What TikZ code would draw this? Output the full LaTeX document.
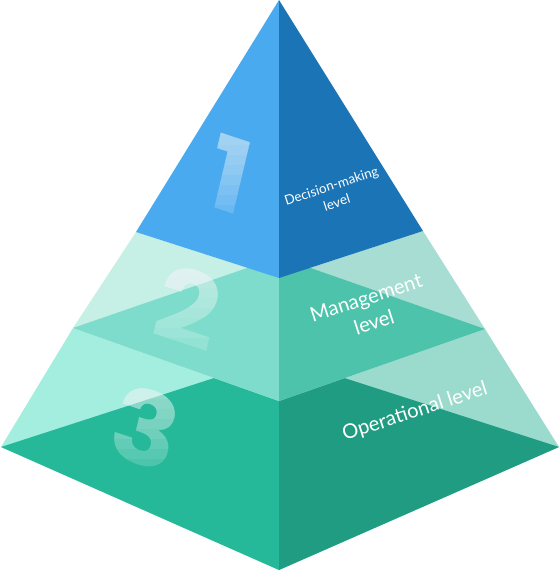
\documentclass[tikz,border=0pt]{standalone}
\usepackage{fontspec}
\setmainfont{Lato}
\newfontfamily\numfont{Poppins}
\usepackage{tikz}

\definecolor{blueL}{HTML}{49AAF0}
\definecolor{blueR}{HTML}{1B74B6}
\definecolor{midBackL}{HTML}{C6EFE6}
\definecolor{midBackR}{HTML}{A7DDD3}
\definecolor{midL}{HTML}{7DDCCB}
\definecolor{midR}{HTML}{4CC3AA}
\definecolor{lowBackL}{HTML}{A4EEDF}
\definecolor{lowBackR}{HTML}{9ADBCD}
\definecolor{lowL}{HTML}{25B99A}
\definecolor{lowR}{HTML}{1F9C82}

\tikzset{
	bignum/.style={text=white, font=\numfont\bfseries\fontsize{60}{60}\selectfont, yslant=-0.33, xslant=0.22},
	levellabel/.style={text=white, align=center, rotate=18}
}
% number that gets whiter towards its top
\def\fadednum(#1)(#2,#3)#4{%
	\node[bignum, text opacity=0.18] (#1) at (#2, #3) {#4};
	\foreach \k in {1,...,8}{
		\begin{scope}
			\clip (#2-60, #3-50) rectangle (#2+60, #3-50+\k*10);
			\node[bignum, text opacity=0.07] at (#2, #3) {#4};
		\end{scope}
	}
}

\begin{document}
\begin{tikzpicture}[x=0.02cm, y=-0.02cm]
			%%%%% START %%%%%
			\useasboundingbox (0, 0) rectangle (560, 571);
			
			% bottom layer
			\fill[lowBackL] (73, 328) -- (1, 447) -- (279, 570) -- (279, 401) -- cycle;
			\fill[lowBackR] (485, 329) -- (559, 447) -- (279, 570) -- (279, 401) -- cycle;
			\fill[lowL] (1, 447) -- (279, 357) -- (279, 570) -- cycle;
			\fill[lowR] (559, 447) -- (279, 357) -- (279, 570) -- cycle;
			
			% middle layer
			\fill[midBackL] (136, 232) -- (73, 328) -- (279, 401) -- (279, 278) -- cycle;
			\fill[midBackR] (423, 231) -- (485, 329) -- (279, 401) -- (279, 278) -- cycle;
			\fill[midL] (73, 328) -- (279, 257) -- (279, 401) -- cycle;
			\fill[midR] (485, 329) -- (279, 257) -- (279, 401) -- cycle;
			
			% top layer
			\fill[blueL] (279, 0) -- (136, 232) -- (279, 278) -- cycle;
			\fill[blueR] (279, 0) -- (423, 231) -- (279, 278) -- cycle;
			
			\fadednum(num1)(230,174){1}
			\fadednum(num2)(188,307){2}
			\fadednum(num3)(146,428){3}
			
			\node[levellabel, font=\fontsize{7.6}{10}\selectfont] (lbl1) at (334, 194) {Decision-making\\level};
			\node[levellabel, font=\fontsize{11.5}{14.5}\selectfont] (lbl2) at (370, 310) {Management\\level};
			\node[levellabel, font=\fontsize{11.5}{13}\selectfont] (lbl3) at (415, 412) {Operational level};
			%%%%% END %%%%%
\end{tikzpicture}
\end{document}
